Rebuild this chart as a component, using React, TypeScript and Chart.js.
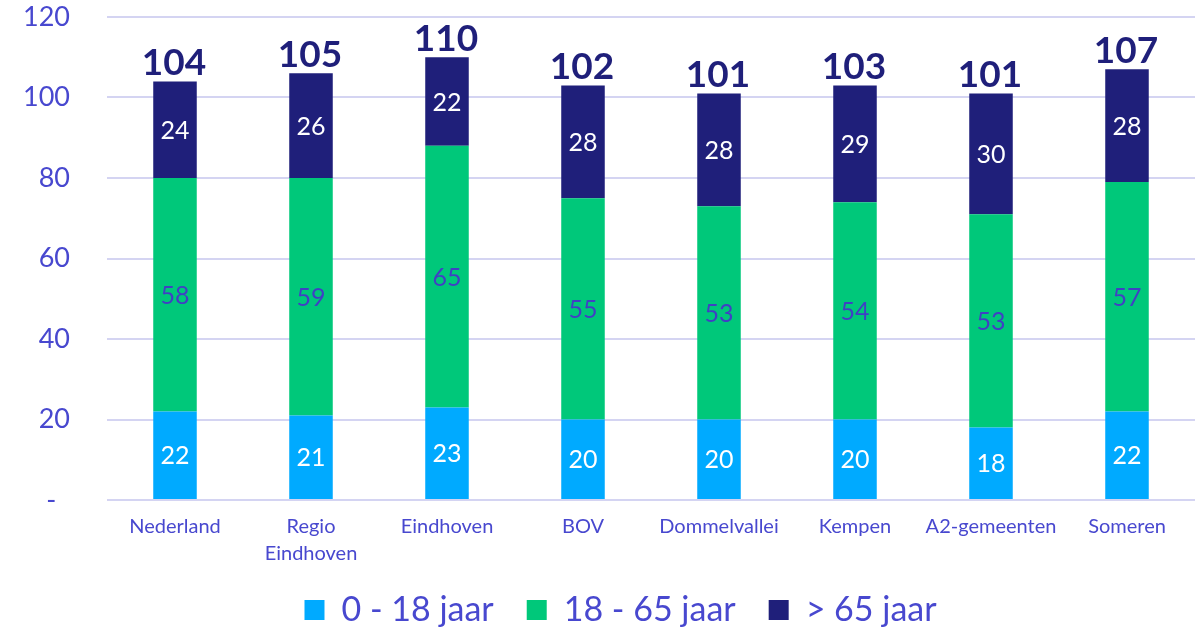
import React, { useEffect, useRef } from "react";
import { Chart, registerables } from "chart.js";

Chart.register(...registerables);

const categories: (string | string[])[] = [
  "Nederland",
  ["Regio", "Eindhoven"],
  "Eindhoven",
  "BOV",
  "Dommelvallei",
  "Kempen",
  "A2-gemeenten",
  "Someren",
];
const young = [22, 21, 23, 20, 20, 20, 18, 22];
const working = [58, 59, 65, 55, 53, 54, 53, 57];
const old = [24, 26, 22, 28, 28, 29, 30, 28];
const totals = [104, 105, 110, 102, 101, 103, 101, 107];
const seriesNames = ["0 - 18 jaar", "18 - 65 jaar", "> 65 jaar"];
const yTicks = [0, 20, 40, 60, 80, 100, 120];

const FONT = "Lato, 'Open Sans', sans-serif";
const AXIS_COLOR = "#4848CF";
const NAVY = "#1F1F7A";

const labelPlugin = {
  id: "segLabels",
  afterDatasetsDraw(chart: any) {
    const ctx = chart.ctx;
    ctx.save();
    const labelColors = ["#FFFFFF", "#4040C4", "#FFFFFF"];
    chart.data.datasets.forEach((ds: any, di: number) => {
      const meta = chart.getDatasetMeta(di);
      meta.data.forEach((bar: any, i: number) => {
        const v = ds.data[i];
        const yMid = (bar.y + bar.base) / 2;
        ctx.font = `25px ${FONT}`;
        ctx.fillStyle = labelColors[di];
        ctx.textAlign = "center";
        ctx.textBaseline = "middle";
        ctx.fillText(String(v), bar.x, yMid + 1);
      });
    });
    const topMeta = chart.getDatasetMeta(2);
    topMeta.data.forEach((bar: any, i: number) => {
      ctx.font = `bold 37px ${FONT}`;
      ctx.fillStyle = NAVY;
      ctx.textAlign = "center";
      ctx.textBaseline = "alphabetic";
      ctx.fillText(String(totals[i]), bar.x - 1, bar.y - 6);
    });
    ctx.restore();
  },
};

export default function App() {
  const ref = useRef<HTMLCanvasElement>(null);
  useEffect(() => {
    document.body.style.margin = "0";
    const chart = new Chart(ref.current!, {
      type: "bar",
      data: {
        labels: categories,
        datasets: [
          { label: seriesNames[0], data: young, backgroundColor: "#00AAFF" },
          { label: seriesNames[1], data: working, backgroundColor: "#00C87A" },
          { label: seriesNames[2], data: old, backgroundColor: NAVY },
        ],
      },
      options: {
        animation: false,
        responsive: false,
        maintainAspectRatio: false,
        layout: { padding: { top: 17, right: 4, left: 0, bottom: -6 } },
        datasets: { bar: { barPercentage: 0.32, categoryPercentage: 1 } },
        plugins: {
          legend: {
            position: "bottom",
            fullSize: false,
            labels: {
              font: { family: FONT, size: 34 },
              color: AXIS_COLOR,
              boxWidth: 20,
              boxHeight: 20,
              padding: 33,
              generateLabels: (chart: any) => {
                const items = Chart.defaults.plugins.legend.labels.generateLabels(chart);
                items[items.length - 1].text = items[items.length - 1].text + "       ";
                return items;
              },
            },
          },
          tooltip: { enabled: false },
        },
        scales: {
          x: {
            stacked: true,
            grid: { display: false },
            border: { display: false },
            afterFit: (scale: any) => {
              scale.height = 60;
            },
            ticks: {
              font: { family: FONT, size: 20, lineHeight: 1.35 },
              color: AXIS_COLOR,
              maxRotation: 0,
              autoSkip: false,
              padding: 5,
            },
          },
          y: {
            stacked: true,
            min: 0,
            max: 120,
            afterBuildTicks: (scale: any) => {
              scale.ticks = yTicks.map((v) => ({ value: v }));
            },
            afterFit: (scale: any) => {
              scale.width = 107;
              scale.paddingTop = 0;
              scale.paddingBottom = 0;
            },
            grid: { color: "#D4D4F2", lineWidth: 2, drawTicks: false },
            border: { display: false },
            ticks: {
              font: { family: FONT, size: 27 },
              color: AXIS_COLOR,
              padding: 37,
              callback: (v: any) => (v === 0 ? "-  " : String(v)),
            },
          },
        },
      },
      plugins: [labelPlugin],
    });
    return () => chart.destroy();
  }, []);
  return (
    <div style={{ width: 1199, height: 631 }}>
      <canvas ref={ref} width={1199} height={631} />
    </div>
  );
}
